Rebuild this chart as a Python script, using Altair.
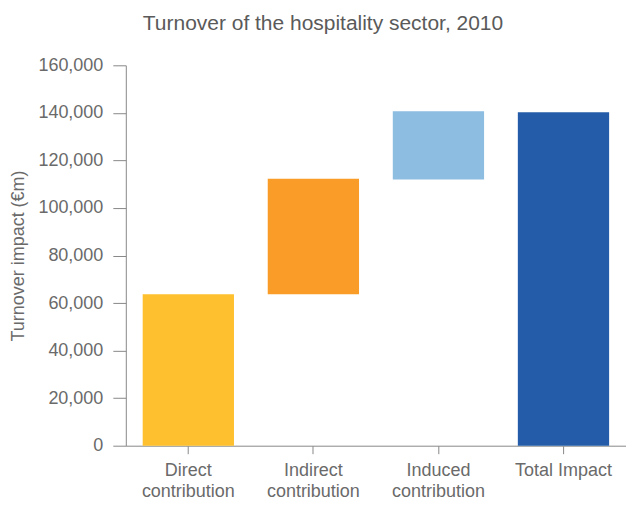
import altair as alt
import pandas as pd

categories = ["Direct|contribution", "Indirect|contribution", "Induced|contribution", "Total Impact"]
bar_start = [0, 63700, 112000, 0]
bar_end = [63700, 112300, 140700, 140300]
colors = ["#FEC02E", "#F99D28", "#8DBDE1", "#255CA9"]

df = pd.DataFrame({"cat": categories, "start": bar_start, "end": bar_end, "color": colors})

FONT = "Liberation Sans"
GRAY = "#6a6a6a"

chart = alt.Chart(df).mark_bar().encode(
    x=alt.X("cat:N", sort=categories,
            scale=alt.Scale(paddingInner=0.27, paddingOuter=0.135),
            axis=alt.Axis(title=None, labelAngle=0, labelExpr="split(datum.label, '|')",
                          labelFont=FONT, labelFontSize=18, labelColor=GRAY,
                          labelPadding=8, tickSize=8, tickColor="#888888",
                          domainColor="#888888", labelLineHeight=21)),
    y=alt.Y("start:Q", scale=alt.Scale(domain=[0, 160000], nice=False),
            axis=alt.Axis(title="Turnover impact (€m)", values=list(range(0, 160001, 20000)),
                          format=",.0f", grid=False, tickSize=13, tickColor="#888888",
                          domainColor="#888888", labelFont=FONT, labelFontSize=18,
                          labelColor=GRAY, labelPadding=10, titleFont=FONT,
                          titleFontSize=18, titleFontWeight="normal", titleColor=GRAY,
                          titlePadding=10)),
    y2="end:Q",
    color=alt.Color("color:N", scale=None),
).properties(
    width=501, height=381,
    title=alt.TitleParams("Turnover of the hospitality sector, 2010", font=FONT,
                          fontSize=21, fontWeight="normal", color="#5a5a5a",
                          anchor="middle", dx=-53, offset=22),
    autosize=alt.AutoSizeParams(type="none"),
    padding={"left": 118, "top": 57, "right": 0, "bottom": 54},
).configure_view(stroke=None)

chart.save("out.html", embed_options={"renderer": "svg", "actions": False})
